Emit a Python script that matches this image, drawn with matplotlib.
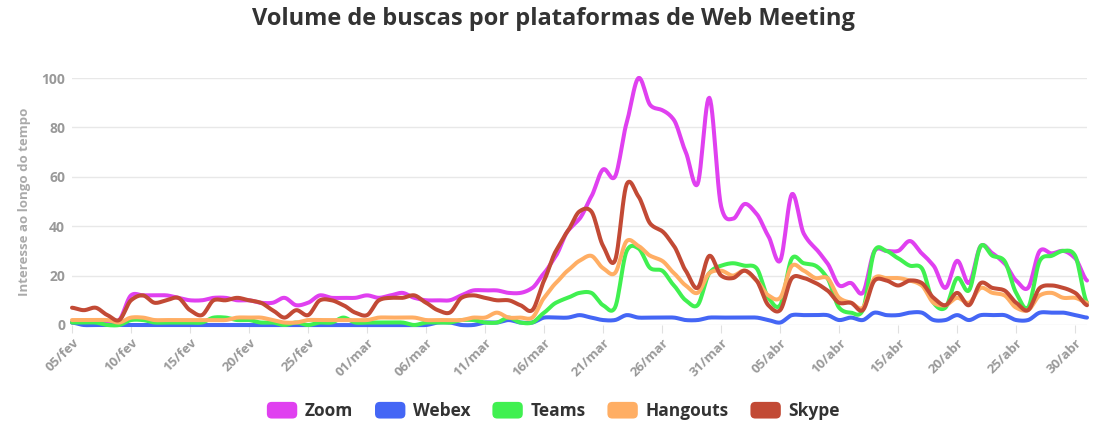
import matplotlib
matplotlib.use("Agg")
import matplotlib.pyplot as plt
import numpy as np
from matplotlib.patches import FancyBboxPatch, Patch
from matplotlib.legend_handler import HandlerPatch

plt.rcParams['font.family'] = ['Open Sans', 'DejaVu Sans']

# ---- data (daily, 05/fev .. 01/mai 2020) ----
days = list(range(87))
tick_labels = ["05/fev", "10/fev", "15/fev", "20/fev", "25/fev", "01/mar", "06/mar",
               "11/mar", "16/mar", "21/mar", "26/mar", "31/mar", "05/abr", "10/abr",
               "15/abr", "20/abr", "25/abr", "30/abr"]

zoom = [1, 1, 1, 1, 2, 12, 12, 12, 12, 11, 10, 10, 11, 11, 10, 10, 9, 9, 11, 8,
        9, 12, 11, 11, 11, 12, 11, 12, 13, 11, 10, 10, 10, 12, 14, 14, 14, 13, 13, 15,
        21, 28, 38, 43, 52, 63, 60, 82, 100, 89, 87, 83, 70, 57, 92, 48, 43, 49, 45, 36,
        26, 53, 37, 31, 25, 16, 17, 13, 30, 30, 30, 34, 29, 24, 15, 26, 17, 32, 29, 25,
        18, 15, 30, 29, 30, 27, 18]
webex = [1, 0, 0, 0, 0, 0, 0, 0, 0, 0, 0, 0, 0, 0, 0, 0, 0, 0, 0, 0,
         0, 0, 0, 0, 0, 0, 0, 0, 0, 0, 0, 1, 1, 0, 0, 1, 1, 2, 1, 1,
         3, 3, 3, 4, 3, 2, 2, 4, 3, 3, 3, 3, 2, 2, 3, 3, 3, 3, 3, 2,
         1, 4, 4, 4, 4, 2, 3, 2, 5, 4, 4, 5, 5, 2, 2, 4, 2, 4, 4, 4,
         2, 2, 5, 5, 5, 4, 3]
teams = [1, 1, 1, 0, 0, 2, 2, 1, 1, 1, 1, 1, 3, 3, 2, 2, 1, 1, 0, 1,
         0, 1, 1, 3, 1, 1, 1, 1, 1, 0, 1, 1, 1, 2, 2, 1, 1, 3, 1, 1,
         5, 9, 11, 13, 13, 8, 7, 30, 31, 23, 22, 16, 10, 8, 21, 24, 25, 24, 23, 11,
         8, 27, 25, 24, 19, 7, 5, 6, 30, 30, 27, 24, 23, 9, 7, 19, 14, 32, 28, 26,
         13, 7, 26, 28, 30, 28, 9]
hangouts = [2, 2, 2, 2, 1, 3, 3, 2, 2, 2, 2, 2, 2, 2, 3, 3, 3, 2, 1, 1,
            2, 2, 2, 2, 2, 2, 3, 3, 3, 3, 2, 2, 2, 2, 3, 3, 5, 3, 3, 3,
            11, 17, 22, 26, 28, 23, 21, 34, 32, 28, 26, 21, 16, 13, 21, 22, 20, 22, 18, 12,
            11, 24, 22, 19, 19, 11, 9, 7, 19, 19, 19, 18, 16, 9, 8, 11, 9, 15, 13, 12,
            7, 6, 12, 13, 11, 11, 9]
skype = [7, 6, 7, 4, 2, 10, 12, 9, 10, 11, 6, 4, 10, 10, 11, 10, 9, 6, 3, 6,
         4, 10, 10, 8, 5, 4, 10, 11, 11, 12, 9, 6, 5, 11, 12, 11, 10, 10, 8, 6,
         18, 30, 38, 46, 46, 32, 26, 57, 52, 41, 38, 32, 22, 15, 28, 20, 19, 22, 18, 8,
         6, 19, 19, 17, 14, 9, 9, 6, 18, 18, 16, 18, 17, 11, 8, 13, 8, 17, 15, 14,
         9, 6, 15, 16, 15, 13, 8]

series = [("Zoom", zoom, "#e040f0"),
          ("Webex", webex, "#4466f5"),
          ("Teams", teams, "#40f050"),
          ("Hangouts", hangouts, "#ffae64"),
          ("Skype", skype, "#c24a35")]


def smooth(x, y, n=12):
    """Catmull-Rom curve through the data points (drawing only)."""
    x = np.asarray(x, float)
    y = np.asarray(y, float)
    xp = np.concatenate([[2 * x[0] - x[1]], x, [2 * x[-1] - x[-2]]])
    yp = np.concatenate([[y[0]], y, [y[-1]]])
    xs, ys = [], []
    t = np.linspace(0, 1, n, endpoint=False)
    for i in range(1, len(xp) - 2):
        p0, p1, p2, p3 = yp[i - 1], yp[i], yp[i + 1], yp[i + 2]
        m1 = (p2 - p0) / 2 * 0.8
        m2 = (p3 - p1) / 2 * 0.8
        h00 = 2 * t**3 - 3 * t**2 + 1
        h10 = t**3 - 2 * t**2 + t
        h01 = -2 * t**3 + 3 * t**2
        h11 = t**3 - t**2
        ys.append(h00 * p1 + h10 * m1 + h01 * p2 + h11 * m2)
        xs.append(xp[i] + t * (xp[i + 1] - xp[i]))
    xs.append([x[-1]])
    ys.append([y[-1]])
    return np.concatenate(xs), np.concatenate(ys)


fig = plt.figure(figsize=(11.07, 4.24), dpi=100)
ax = fig.add_axes([72 / 1107, 99 / 424, (1087 - 72) / 1107, (325 - 78) / 424])

for name, vals, col in series:
    sx, sy = smooth(days, vals)
    ax.plot(sx, sy, color=col, lw=2.9, solid_capstyle='round',
            solid_joinstyle='round', clip_on=False, label=name, zorder=3)

ax.set_xlim(0, 86)
ax.set_ylim(0, 100)
ax.set_yticks([0, 20, 40, 60, 80, 100])
ax.grid(axis='y', color='#e8e8e8', lw=1)
ax.set_axisbelow(True)
for s in ax.spines.values():
    s.set_visible(False)

ax.set_xticks(list(range(0, 86, 5)))
ax.set_xticklabels(tick_labels, rotation=45, ha='right', va='top',
                   rotation_mode='anchor', color='#999999', fontsize=9.5,
                   fontweight='bold')
ax.tick_params(axis='x', length=6, color='#e0e0e0', pad=2)
ax.tick_params(axis='y', length=0, pad=5, labelsize=10, labelcolor='#999999')
for lb in ax.get_yticklabels():
    lb.set_fontweight('bold')

ax.set_ylabel("Interesse ao longo do tempo", color='#aaaaaa', fontsize=9.5,
              fontweight='bold', labelpad=7)

fig.text(0.5, 1 - 19 / 424, "Volume de buscas por plataformas de Web Meeting",
         ha='center', va='center', fontsize=17, fontweight='bold', color='#333333')


class RoundHandler(HandlerPatch):
    def create_artists(self, legend, orig_handle, xdescent, ydescent, width,
                       height, fontsize, trans):
        p = FancyBboxPatch((-xdescent + 1.5, -ydescent + 1.5), width - 3, height - 3,
                           boxstyle="round,pad=1.5,rounding_size=3.5",
                           facecolor=orig_handle.get_facecolor(),
                           edgecolor='none', transform=trans)
        return [p]


handles = [Patch(facecolor=c, label=n) for n, _, c in series]
leg = fig.legend(handles=handles, loc='center', bbox_to_anchor=(0.5, 1 - 411 / 424),
                 ncol=5, frameon=False, handlelength=1.75, handleheight=1.1,
                 handletextpad=0.45, columnspacing=1.25,
                 prop={'weight': 'bold', 'size': 12.5},
                 handler_map={Patch: RoundHandler()})
for t in leg.get_texts():
    t.set_color('#333333')

fig.savefig("out.png", dpi=100, facecolor='white')
